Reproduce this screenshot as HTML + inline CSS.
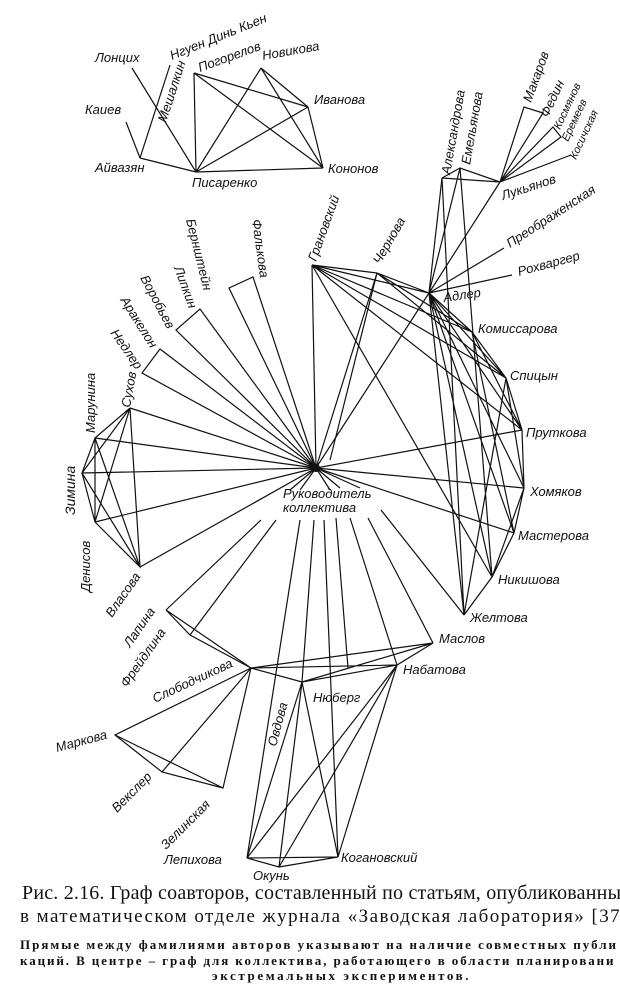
<!DOCTYPE html>
<html><head><meta charset="utf-8"><style>
body{margin:0;background:#fff;width:620px;height:987px;overflow:hidden;position:relative}
svg{position:absolute;left:0;top:0}
.l{font-family:"Liberation Sans","DejaVu Sans",sans-serif;font-style:italic;font-size:13px;fill:#111}
.cap{position:absolute;left:0;white-space:nowrap;font-family:"Liberation Serif",serif;color:#111}
</style></head><body>
<svg width="620" height="987" viewBox="0 0 620 987">
<g stroke="#111" stroke-width="1.2" fill="none">
<path d="M132 68 L196 172 M170 65 L140 158 M126 122 L140 158 M140 158 L196 172 L323 168 M194 73 L196 172 M194 73 L308 107 M194 73 L323 168 M261 68 L196 172 M261 68 L308 107 M261 68 L323 168 M308 107 L196 172 M308 107 L323 168"/>
<path d="M442 178 L460 168 L500 182 L442 178 M442 178 L429 293 M460 168 L429 293 M500 182 L429 293 M500 182 L524 107 L543 113 L500 182 M500 182 L553 127 L561 137 L500 182 M500 182 L571 155 M429 293 L504 248 M429 293 L512 275"/>
<path d="M316 468 L312 265 M316 468 L377 273 M316 468 L429 293 M316 468 L522 430 M316 468 L524 488 M316 468 L514 533 M316 468 L130 408 M316 468 L95 438 M316 468 L82 473 M316 468 L95 522 M316 468 L140 567 M316 468 L142 373 L160 349 L316 468 M316 468 L176 330 L200 309 L316 468 M316 468 L229 288 L253 277 L316 468"/>
<path d="M312 265 L377 273 M312 265 L429 293 M312 265 L472 332 M312 265 L506 378 M312 265 L522 430 M312 265 L492 577 M377 273 L429 293 M377 273 L472 332 M377 273 L506 378 M377 273 L330 460 M429 293 L472 332 M429 293 L506 378 M429 293 L522 430 M429 293 L524 488 M429 293 L514 533 M429 293 L492 577 M429 293 L464 615 M442 178 L464 615 M460 168 L492 577 M472 332 L506 378 L522 430 L524 488 L514 533 L492 577 L464 615 M472 332 L522 430 M506 378 L524 488 M524 488 L492 577 M472 332 L514 533 M506 378 L464 615"/>
<path d="M130 408 L95 438 L82 473 L95 522 L140 567 L130 408 M130 408 L82 473 M130 408 L95 522 M95 438 L95 522 M95 438 L140 567 M82 473 L140 567"/>
<path d="M316 468 L300 490 M316 468 L330 490 M316 468 L290 490 M316 468 L340 488 M316 468 L360 488 M261 520 L166 610 M276 520 L190 635 M300 520 L247 858 M314 520 L302 682 M324 520 L338 857 M336 518 L348 668 M350 518 L397 665 M368 518 L433 643 M381 510 L464 615"/>
<path d="M166 610 L190 635 L251 668 L166 610 M251 668 L433 643 L397 665 L302 682 L251 668 M251 668 L397 665 M433 643 L302 682 M251 668 L115 735 L162 772 L223 788 L251 668 M251 668 L162 772 M115 735 L223 788 M302 682 L247 858 M302 682 L279 867 M302 682 L338 857 M397 665 L247 858 M397 665 L279 867 M397 665 L338 857 M247 858 L279 867 L338 857 L247 858"/>
</g>
<circle cx="316" cy="468" r="4" fill="#111"/>
<g class="l">
<text x="95" y="62">Лонцих</text>
<text x="0" y="0" transform="translate(172,60) rotate(-22)">Нгуен Динь Кьен</text>
<text x="0" y="0" transform="translate(166,123) rotate(-72)">Мешалкин</text>
<text x="0" y="0" transform="translate(200,72) rotate(-20)">Погорелов</text>
<text x="0" y="0" transform="translate(263,60) rotate(-10)">Новикова</text>
<text x="85" y="114">Каиев</text>
<text x="314" y="104">Иванова</text>
<text x="95" y="172">Айвазян</text>
<text x="328" y="173">Кононов</text>
<text x="192" y="187">Писаренко</text>
<text x="0" y="0" transform="translate(450,175) rotate(-80)">Александрова</text>
<text x="0" y="0" transform="translate(470,165) rotate(-80)">Емельянова</text>
<text x="0" y="0" transform="translate(531,103) rotate(-70)">Макаров</text>
<text x="0" y="0" transform="translate(548,118) rotate(-65)">Федин</text>
<text x="0" y="0" transform="translate(560,130) rotate(-65)" font-size="11">Космянов</text>
<text x="0" y="0" transform="translate(568,142) rotate(-65)" font-size="11">Еремеев</text>
<text x="0" y="0" transform="translate(576,160) rotate(-65)" font-size="11">Косичская</text>
<text x="0" y="0" transform="translate(503,200) rotate(-18)">Лукьянов</text>
<text x="0" y="0" transform="translate(510,248) rotate(-33)">Преображенская</text>
<text x="0" y="0" transform="translate(519,276) rotate(-15)">Рохваргер</text>
<text x="0" y="0" transform="translate(444,302) rotate(-8)">Адлер</text>
<text x="0" y="0" transform="translate(316,262) rotate(-70)">Грановский</text>
<text x="0" y="0" transform="translate(380,265) rotate(-60)">Чернова</text>
<text x="0" y="0" transform="translate(252,220) rotate(82)">Фалькова</text>
<text x="0" y="0" transform="translate(186,220) rotate(76)">Бернштейн</text>
<text x="0" y="0" transform="translate(174,268) rotate(70)">Липкин</text>
<text x="0" y="0" transform="translate(140,278) rotate(62)">Воробьев</text>
<text x="0" y="0" transform="translate(120,300) rotate(58)">Аракелон</text>
<text x="0" y="0" transform="translate(110,333) rotate(55)">Недлер</text>
<text x="0" y="0" transform="translate(95,433) rotate(-90)">Марунина</text>
<text x="0" y="0" transform="translate(130,408) rotate(-80)">Сухов</text>
<text x="0" y="0" transform="translate(75,515) rotate(-90)" font-size="14">Зимина</text>
<text x="0" y="0" transform="translate(90,592) rotate(-90)">Денисов</text>
<text x="0" y="0" transform="translate(112,618) rotate(-55)">Власова</text>
<text x="478" y="333">Комиссарова</text>
<text x="510" y="380">Спицын</text>
<text x="526" y="437">Пруткова</text>
<text x="530" y="496">Хомяков</text>
<text x="518" y="540">Мастерова</text>
<text x="498" y="584">Никишова</text>
<text x="470" y="622">Желтова</text>
<text x="439" y="643">Маслов</text>
<text x="403" y="674">Набатова</text>
<text x="313" y="702">Нюберг</text>
<text x="283" y="498">Руководитель</text>
<text x="283" y="512">коллектива</text>
<text x="0" y="0" transform="translate(130,648) rotate(-55)">Лапина</text>
<text x="0" y="0" transform="translate(127,688) rotate(-55)">Фрейдлина</text>
<text x="0" y="0" transform="translate(155,703) rotate(-25)">Слободчикова</text>
<text x="0" y="0" transform="translate(57,752) rotate(-15)">Маркова</text>
<text x="0" y="0" transform="translate(117,813) rotate(-45)">Векслер</text>
<text x="0" y="0" transform="translate(166,850) rotate(-45)">Зелинская</text>
<text x="0" y="0" transform="translate(276,747) rotate(-75)">Овдова</text>
<text x="164" y="864">Лепихова</text>
<text x="253" y="880">Окунь</text>
<text x="341" y="862">Когановский</text>
</g>
</svg>
<div class="cap" style="top:882px;left:22px;font-size:20px;letter-spacing:0.2px">Рис. 2.16. Граф соавторов, составленный по статьям, опубликованны</div>
<div class="cap" style="top:906px;left:20px;font-size:19px;letter-spacing:1.45px">в математическом отделе журнала «Заводская лаборатория» [37</div>
<div class="cap" style="top:937px;left:20px;font-size:13px;font-weight:bold;letter-spacing:2.0px">Прямые между фамилиями авторов указывают на наличие совместных публи</div>
<div class="cap" style="top:953px;left:20px;font-size:13px;font-weight:bold;letter-spacing:1.9px">каций. В центре – граф для коллектива, работающего в области планировани</div>
<div class="cap" style="top:968px;left:212px;font-size:13px;font-weight:bold;letter-spacing:2.6px">экстремальных экспериментов.</div>
</body></html>
